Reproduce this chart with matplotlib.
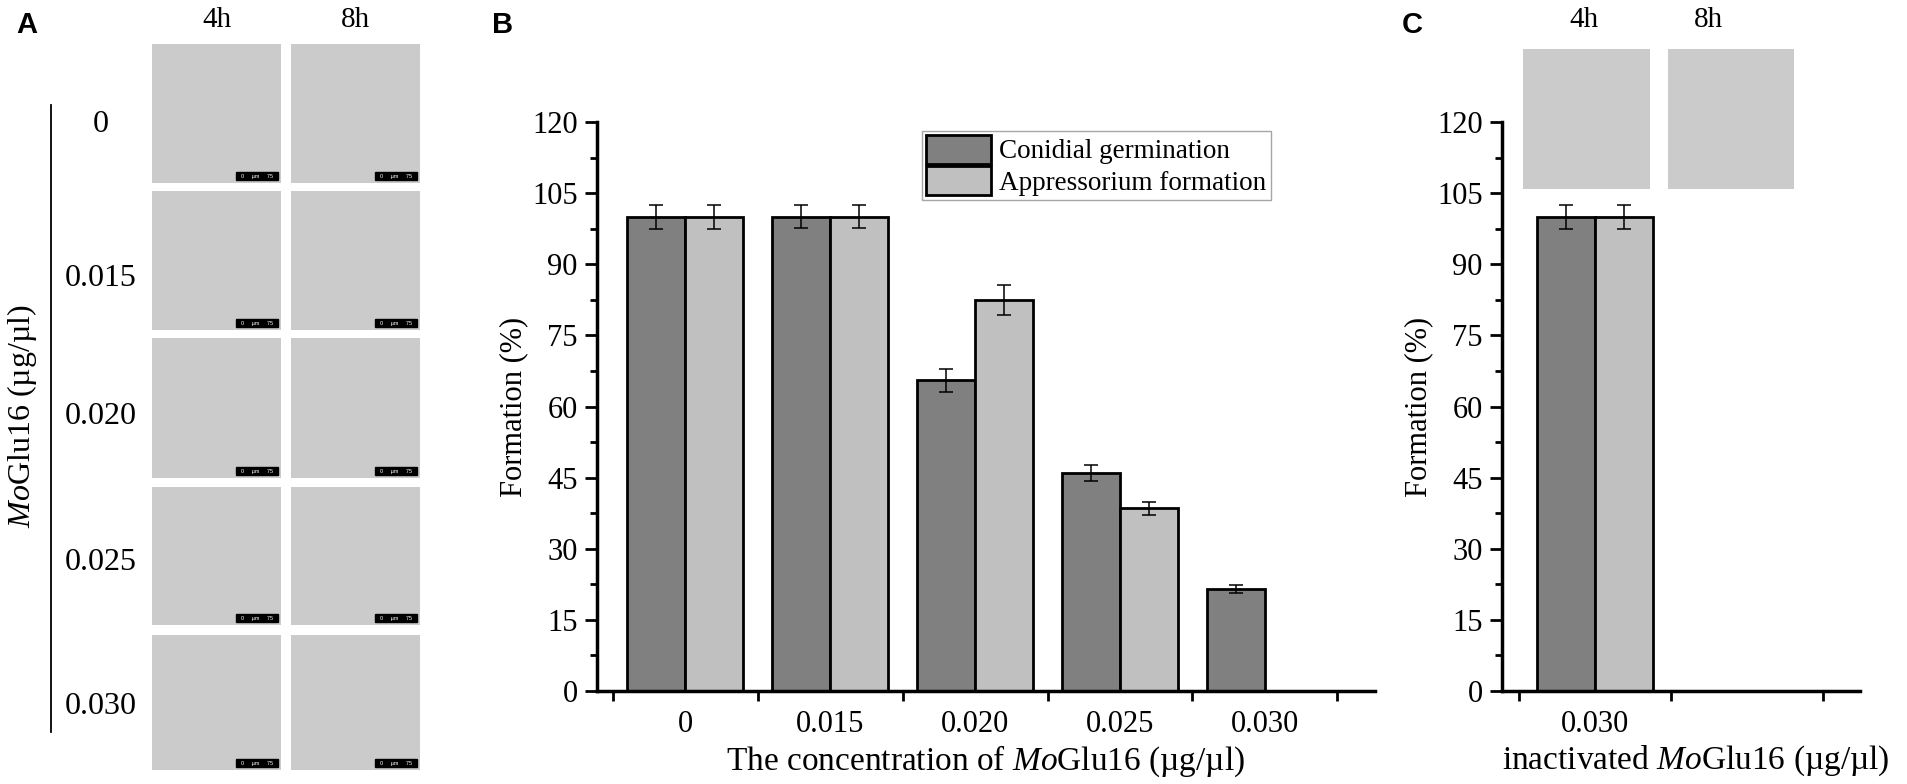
import matplotlib as mpl

mpl.use('agg')
import matplotlib.pyplot as plt
from matplotlib.patches import Rectangle
from matplotlib.lines import Line2D
import numpy as np

mpl.rcParams['font.family'] = 'Liberation Serif'
mpl.rcParams['mathtext.fontset'] = 'custom'
mpl.rcParams['mathtext.rm'] = 'Liberation Serif'
mpl.rcParams['mathtext.it'] = 'Liberation Serif:italic'

# panel B data
concentrations = ['0', '0.015', '0.020', '0.025', '0.030']
germination = [100, 100, 65.5, 46, 21.5]
germination_err = [2.6, 2.4, 2.4, 1.7, 0.8]
appressorium = [100, 100, 82.5, 38.5, 0]
appressorium_err = [2.6, 2.4, 3.1, 1.3, 0]

# panel C data
inactivated = ['0.030']
germination_c = [100]
germination_c_err = [2.6]
appressorium_c = [100]
appressorium_c_err = [2.6]

# panel A labels
row_labels = ['0', '0.015', '0.020', '0.025', '0.030']
time_labels = ['4h', '8h']

DARK = '#808080'
LIGHT = '#c0c0c0'
W, H = 1908, 784


def px(x0, y0, x1, y1):
    # pixel box, origin top-left -> figure fraction rect
    return [x0 / W, 1 - y1 / H, (x1 - x0) / W, (y1 - y0) / H]


def ftext(fig, x, y, s, **kw):
    fig.text(x / W, 1 - y / H, s, **kw)


def micrograph(fig, box, scalebar=True):
    # placeholder for the microscope photo
    ax = fig.add_axes(px(*box))
    ax.set_facecolor('#cbcbcb')
    ax.set_xticks([])
    ax.set_yticks([])
    for s in ax.spines.values():
        s.set_visible(False)
    if scalebar:
        ax.add_patch(Rectangle((0.65, 0.02), 0.33, 0.06, transform=ax.transAxes,
                               color='black'))
        ax.text(0.815, 0.05, '0     µm     75', transform=ax.transAxes, color='white',
                fontsize=4, ha='center', va='center', family='Liberation Sans')


def draw_bars(ax, x, vals, errs, offset, width, color, label):
    xs = x + offset
    ax.bar(xs, vals, width, color=color, edgecolor='black', linewidth=2,
           zorder=2, label=label)
    v = np.array(vals, dtype=float)
    e = np.array(errs, dtype=float)
    m = v > 0
    ax.errorbar(xs[m], v[m], yerr=e[m], fmt='none', ecolor='black',
                elinewidth=1.1, capsize=5, capthick=1.1, zorder=3)


def style_axis(ax, labels, xlim):
    n = len(labels)
    ax.set_ylim(0, 120)
    ax.set_xlim(*xlim)
    ax.set_yticks(np.arange(0, 121, 15))
    ax.set_yticks(np.arange(7.5, 120, 15), minor=True)
    ax.set_xticks(np.arange(n))
    ax.set_xticklabels(labels)
    ax.set_xticks(np.arange(-0.5, xlim[1], 1), minor=True)
    ax.spines['top'].set_visible(False)
    ax.spines['right'].set_visible(False)
    ax.spines['left'].set_linewidth(2.5)
    ax.spines['bottom'].set_linewidth(2.5)
    ax.tick_params(axis='y', which='major', length=9, width=2, labelsize=22, pad=5)
    ax.tick_params(axis='y', which='minor', length=5, width=2)
    ax.tick_params(axis='x', which='major', length=0, labelsize=22, pad=14)
    ax.tick_params(axis='x', which='minor', length=7, width=2)
    ax.set_ylabel('Formation (%)', fontsize=22, labelpad=3)


def main():
    fig = plt.figure(figsize=(W / 100, H / 100), dpi=100)

    # ---- panel A ----
    ftext(fig, 27, 25, 'A', fontsize=21, fontweight='bold', family='Liberation Sans',
          ha='center', va='center')
    cols = [(152, 281), (291, 420)]
    rows = [(44, 183), (191, 330), (338, 478), (487, 625), (635, 770)]
    label_y = [125, 278, 417, 562, 707]
    for (x0, x1), t in zip(cols, time_labels):
        ftext(fig, (x0 + x1) / 2, 20, t, fontsize=21, ha='center', va='center')
        for (y0, y1) in rows:
            micrograph(fig, (x0, y0, x1, y1))
    for y, lab in zip(label_y, row_labels):
        ftext(fig, 101, y, lab, fontsize=23, ha='center', va='center')
    fig.add_artist(Line2D([51 / W, 51 / W], [1 - 105 / H, 1 - 732 / H],
                          color='black', lw=1.3))
    ftext(fig, 22, 416, r'$\mathit{Mo}$Glu16 (µg/µl)', rotation=90, fontsize=23,
          ha='center', va='center')

    # ---- panel B ----
    ftext(fig, 503, 25, 'B', fontsize=21, fontweight='bold', family='Liberation Sans',
          ha='center', va='center')
    axb = fig.add_axes(px(597, 122, 1375, 691))
    x = np.arange(len(concentrations))
    draw_bars(axb, x, germination, germination_err, -0.2, 0.4, DARK, 'Conidial germination')
    draw_bars(axb, x, appressorium, appressorium_err, 0.2, 0.4, LIGHT, 'Appressorium formation')
    style_axis(axb, concentrations, (-0.61, 4.76))
    axb.set_xlabel(r'The concentration of $\mathit{Mo}$Glu16 (µg/µl)', fontsize=24, labelpad=3)
    leg = axb.legend(loc='upper left', bbox_to_anchor=(0.418, 0.985), fontsize=19.5,
                     frameon=True, fancybox=False, edgecolor='#909090',
                     handlelength=2.4, handleheight=1.3, handletextpad=0.3,
                     borderpad=0.15, labelspacing=0.05, borderaxespad=0)
    leg.get_frame().set_linewidth(1)

    # ---- panel C ----
    ftext(fig, 1412, 25, 'C', fontsize=21, fontweight='bold', family='Liberation Sans',
          ha='center', va='center')
    axc = fig.add_axes(px(1502, 122, 1860, 691))
    xc = np.arange(len(inactivated))
    draw_bars(axc, xc, germination_c, germination_c_err, -0.19, 0.38, DARK, None)
    draw_bars(axc, xc, appressorium_c, appressorium_c_err, 0.19, 0.38, LIGHT, None)
    style_axis(axc, inactivated, (-0.61, 1.74))
    axc.set_xlabel(r'inactivated $\mathit{Mo}$Glu16 (µg/µl)', fontsize=24, labelpad=3)
    axc.xaxis.label.set_x(0.54)

    # photos above panel C, added last so they sit over the axes background
    cboxes = [(1523, 49, 1650, 189), (1668, 49, 1794, 189)]
    ctitle_x = [1584, 1708]
    for box, t, tx in zip(cboxes, time_labels, ctitle_x):
        micrograph(fig, box, scalebar=False)
        ftext(fig, tx, 20, t, fontsize=21, ha='center', va='center')

    fig.savefig('out.png', dpi=100)
    plt.close(fig)


if __name__ == '__main__':
    main()
